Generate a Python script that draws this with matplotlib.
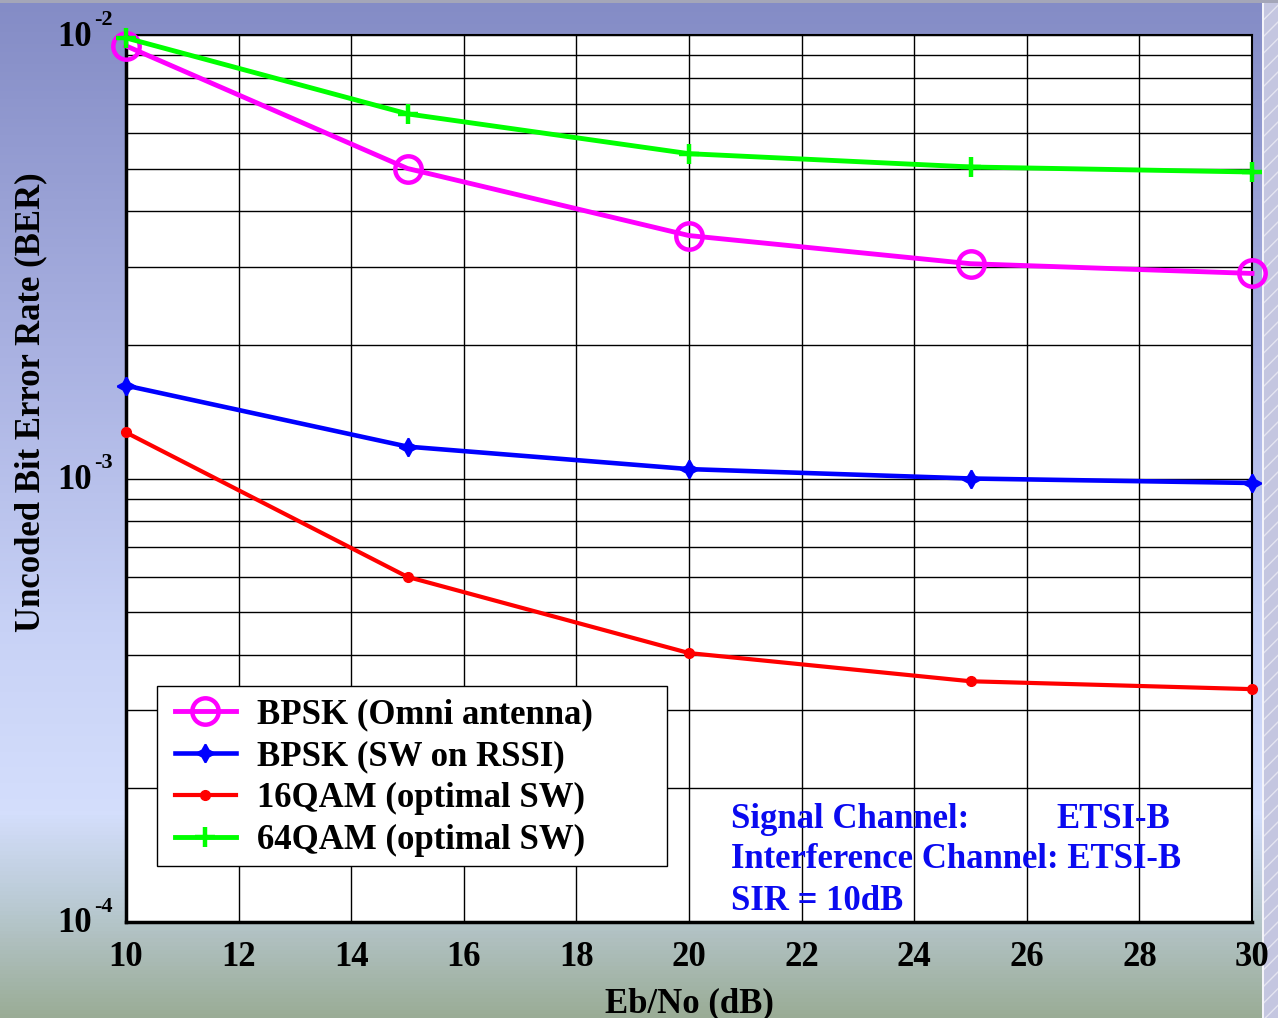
import numpy as np
import matplotlib
matplotlib.use("Agg")
import matplotlib.pyplot as plt
import matplotlib.transforms as mtransforms
from matplotlib.colors import LinearSegmentedColormap
from matplotlib.patches import Rectangle
from matplotlib.ticker import LogLocator, FixedLocator, NullFormatter

plt.rcParams["font.family"] = ["Liberation Serif", "DejaVu Serif"]
plt.rcParams["font.weight"] = "bold"

# Eb/No (dB)
ebno = [10, 15, 20, 25, 30]
# BER values
ber_bpsk_omni = [9.45e-3, 5.0e-3, 3.53e-3, 3.05e-3, 2.90e-3]
ber_bpsk_sw = [1.62e-3, 1.18e-3, 1.05e-3, 1.0e-3, 0.977e-3]
ber_16qam = [1.27e-3, 6.0e-4, 4.04e-4, 3.49e-4, 3.35e-4]
ber_64qam = [9.85e-3, 6.64e-3, 5.40e-3, 5.04e-3, 4.91e-3]

labels = ["BPSK (Omni antenna)", "BPSK (SW on RSSI)",
          "16QAM (optimal SW)", "64QAM (optimal SW)"]
x_ticks = [10, 12, 14, 16, 18, 20, 22, 24, 26, 28, 30]
y_exponents = [-4, -3, -2]
info_lines = ["Signal Channel:", "Interference Channel: ETSI-B", "SIR = 10dB"]

W, H = 1278, 1018
fig = plt.figure(figsize=(W / 100, H / 100), dpi=100)

# slide-like gradient background
bg = fig.add_axes([0, 0, 1, 1], zorder=-10)
bg.set_axis_off()
cmap = LinearSegmentedColormap.from_list("bg", [
    (0.0, "#848cc6"), (0.06, "#8a92ca"), (0.35, "#aab2e2"),
    (0.62, "#c8d2f6"), (0.80, "#d4defc"), (0.88, "#bcccd8"),
    (1.0, "#9aac96")])
grad = np.linspace(0, 1, 256).reshape(-1, 1)
bg.imshow(grad, aspect="auto", cmap=cmap, extent=(0, 1, 1, 0))
bg.set_xlim(0, 1)
bg.set_ylim(1, 0)
bg.add_patch(Rectangle((1262 / W, 0), 16 / W, 1, facecolor="#c4c6e0",
                       edgecolor="#e4e4f0", hatch="//", linewidth=0))
bg.add_patch(Rectangle((1262 / W, 0), 1.5 / W, 1, facecolor="#f4f4fa", linewidth=0))
bg.add_patch(Rectangle((0, 0), 1, 3 / H, facecolor="#a4a6b8", linewidth=0))

ax = fig.add_axes([126 / W, 1 - 922 / H, (1252 - 126) / W, (922 - 35) / H])
ax.set_facecolor("white")

ax.plot(ebno, ber_bpsk_omni, color="#ff00ff", lw=3.5, marker="o", ms=19,
        mfc="none", mew=3.2, label=labels[0], clip_on=False, zorder=5)
ax.plot(ebno, ber_bpsk_sw, color="#0000ff", lw=3.3, marker=(4, 1, 0), ms=13,
        mew=1.5, label=labels[1], clip_on=False, zorder=5)
ax.plot(ebno, ber_16qam, color="#ff0000", lw=3, marker="o", ms=7,
        label=labels[2], clip_on=False, zorder=5)
ax.plot(ebno, ber_64qam, color="#00ff00", lw=3.5, marker="+", ms=15,
        mew=3.2, label=labels[3], clip_on=False, zorder=5)

ax.set_yscale("log")
ax.set_xlim(10, 30)
ax.set_ylim(1e-4, 1e-2)
ax.xaxis.set_major_locator(FixedLocator(x_ticks))
ax.yaxis.set_major_locator(FixedLocator([10.0 ** e for e in y_exponents]))
ax.yaxis.set_minor_locator(LogLocator(base=10, subs=np.arange(2, 10), numticks=20))
ax.yaxis.set_major_formatter(NullFormatter())
ax.yaxis.set_minor_formatter(NullFormatter())

ax.grid(True, which="major", color="black", lw=1)
ax.grid(True, which="minor", axis="y", color="black", lw=1)
ax.tick_params(axis="both", which="both", direction="in", length=0,
               labelsize=25, pad=14)
ax.spines["left"].set_linewidth(2.5)
ax.spines["bottom"].set_linewidth(2.5)
ax.spines["top"].set_linewidth(1.5)
ax.spines["right"].set_linewidth(1.5)

# y tick labels as "10" with a raised exponent
ytrans = mtransforms.blended_transform_factory(ax.transAxes, ax.transData)
for e in y_exponents:
    ax.annotate("10", xy=(0, 10.0 ** e), xycoords=ytrans, xytext=(-34, -2),
                textcoords="offset pixels", ha="right", va="center",
                fontsize=25, fontweight="bold", annotation_clip=False)
    ax.annotate(str(e), xy=(0, 10.0 ** e), xycoords=ytrans, xytext=(-32, 10),
                textcoords="offset pixels", ha="left", va="baseline",
                fontsize=16, fontweight="bold", annotation_clip=False)

ax.set_xlabel("Eb/No (dB)", fontsize=25, fontweight="bold", labelpad=9)
ax.set_ylabel("Uncoded Bit Error Rate (BER)", fontsize=25, fontweight="bold")
ax.yaxis.set_label_coords((47 - 126) / 1126, (1018 - 402 - 96) / 887)

# legend frame drawn separately (wider than the text, as in the original)
ax.add_patch(Rectangle((157 / W, 1 - 866 / H), (667 - 157) / W, 180 / H,
                       transform=fig.transFigure, facecolor="white",
                       edgecolor="black", lw=1, zorder=6, clip_on=False))
leg = ax.legend(loc="upper left", bbox_to_anchor=(175 / W, 1 - 698 / H),
                bbox_transform=fig.transFigure,
                fontsize=25, frameon=False, handlelength=1.75, handletextpad=0.6,
                borderpad=0, labelspacing=0.26, borderaxespad=0)
leg.set_zorder(7)
for t in leg.get_texts():
    t.set_fontweight("bold")

blue = "#0a0af0"
fig.text(731 / W, 1 - 819 / H, info_lines[0], color=blue, fontsize=25,
         fontweight="bold", va="center", ha="left")
fig.text(1056 / W, 1 - 819 / H, "ETSI-B", color=blue, fontsize=25,
         fontweight="bold", va="center", ha="left")
fig.text(731 / W, 1 - 860 / H, info_lines[1], color=blue, fontsize=25,
         fontweight="bold", va="center", ha="left")
fig.text(731 / W, 1 - 902 / H, info_lines[2], color=blue, fontsize=25,
         fontweight="bold", va="center", ha="left")

fig.savefig("out.png", dpi=100)
